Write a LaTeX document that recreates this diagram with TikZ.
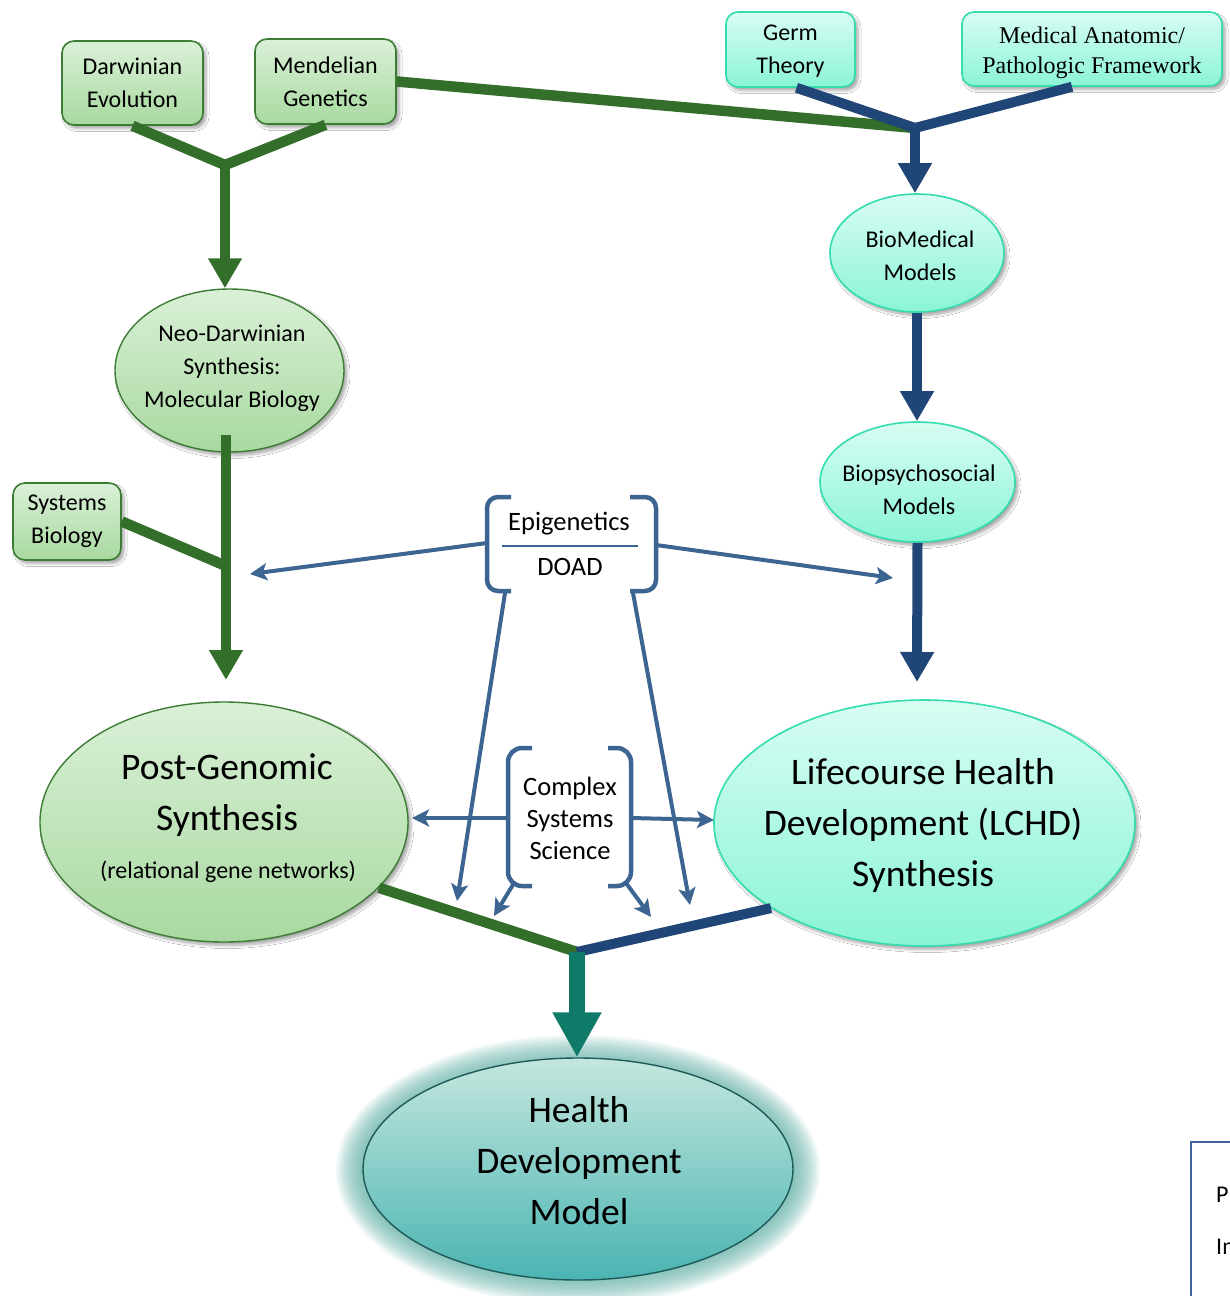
\documentclass[tikz,border=0pt]{standalone}
\usepackage{fontspec}
\setmainfont{Carlito}
\newfontfamily\timesf{Liberation Serif}
\usetikzlibrary{shapes.geometric,arrows.meta,shadows.blur,calc}
\definecolor{dgreen}{HTML}{346E2B}
\definecolor{navy}{HTML}{1F4677}
\definecolor{steel}{HTML}{3D6592}
\definecolor{tealarr}{HTML}{0F7A68}
\definecolor{gtop}{HTML}{DAF0D7}
\definecolor{gbot}{HTML}{A8D9A0}
\definecolor{gborder}{HTML}{3D7C35}
\definecolor{atop}{HTML}{D8FDF3}
\definecolor{abot}{HTML}{8AF4D6}
\definecolor{aborder}{HTML}{33DDAE}
\definecolor{htop}{HTML}{C4E7DE}
\definecolor{hbot}{HTML}{4AB4B2}
\definecolor{hborder}{HTML}{1F5A58}
\definecolor{glowc}{HTML}{4FA89E}
\definecolor{pbox}{HTML}{3F659C}
\newcommand{\fsm}{\fontsize{24}{33}\selectfont}
\newcommand{\fbig}{\fontsize{37.5}{51}\selectfont}
\tikzset{
  shad/.style={blur shadow={shadow xshift=3pt,shadow yshift=-3.5pt,shadow blur steps=6,shadow opacity=35,shadow blur radius=3pt}},
  gbox/.style={rounded corners=12pt,draw=gborder,line width=1.6pt,top color=gtop,bottom color=gbot,shad,align=center,font=\fsm,inner sep=0pt},
  abox/.style={rounded corners=12pt,draw=aborder,line width=1.6pt,top color=atop,bottom color=abot,shad,align=center,font=\fsm,inner sep=0pt},
  gell/.style={ellipse,draw=gborder,line width=1.4pt,top color=gtop,bottom color=gbot,shad,inner sep=0pt},
  aell/.style={ellipse,draw=aborder,line width=1.6pt,top color=atop,bottom color=abot,shad,inner sep=0pt},
  gline/.style={draw=dgreen,line width=10.5pt},
  nline/.style={draw=navy,line width=10pt},
  garr/.style={gline,-{Triangle[length=30pt,width=32pt]}},
  narr/.style={nline,-{Triangle[length=30pt,width=32pt]}},
  sline/.style={draw=steel,line width=4pt},
  sarr/.style={sline,-{Stealth[length=17pt,width=17pt,inset=4pt]}},
  brk/.style={draw=steel,line width=4.5pt,rounded corners=11pt},
  lbl/.style={align=center,inner sep=0pt},
}
\begin{document}
\begin{tikzpicture}[x=1pt,y=1pt]
\useasboundingbox (0,0) rectangle (1230,-1296);
\fill[white] (0,0) rectangle (1230,-1296);

% glow around health development model
\foreach \k in {0,...,13}{
  \fill[glowc,opacity=0.075] (578,-1170) ellipse [x radius={242-2*\k}, y radius={135-2*\k}];
}

% coordinates
\coordinate (jg) at (225,-165);
\coordinate (jt) at (915,-128);
\coordinate (trunk) at (226,-435);
\coordinate (sysj) at (226,-566);
\coordinate (pgtip) at (226,-680);
\coordinate (lchdtip) at (917,-682);
\coordinate (jb) at (577,-952);
\coordinate (epiL) at (250,-574);
\coordinate (epiR) at (893,-578);
\coordinate (epiDL) at (457,-901);
\coordinate (epiDR) at (690,-905);
\coordinate (cssL) at (412,-818);
\coordinate (cssR) at (714,-820);
\coordinate (cssDL) at (494,-916);
\coordinate (cssDR) at (651,-917);

% boxes
\node[gbox,minimum width=141pt,minimum height=84pt] (darwin) at (132.5,-83) {Darwinian\\Evolution};
\node[gbox,minimum width=141pt,minimum height=85pt] (mendel) at (325.5,-81.5) {Mendelian\\Genetics};
\node[abox,minimum width=129pt,minimum height=75pt] (germ) at (790.5,-49.5) {};
\node[lbl,font=\fsm] (germt) at (790.5,-51) {Germ\\Theory};
\node[abox,minimum width=260pt,minimum height=74pt] (med) at (1092,-49) {};
\node[lbl,font=\timesf\fontsize{24}{30}\selectfont] (medt) at (1092,-53) {Medical Anatomic/\\Pathologic Framework};
\node[gbox,minimum width=108pt,minimum height=77pt] (sysbio) at (67,-521.5) {Systems\\Biology};

% upper ellipses
\node[aell,minimum width=174pt,minimum height=118pt] (biomed) at (917,-253) {};
\node[lbl,font=\fsm] (biomedt) at (920,-256) {BioMedical\\Models};
\node[aell,minimum width=195pt,minimum height=120pt] (biopsy) at (917.5,-482) {};
\node[lbl,font=\fsm] (biopsyt) at (919,-490) {Biopsychosocial\\Models};
\node[gell,minimum width=229pt,minimum height=163pt] (neo) at (229.5,-370.5) {};
\node[lbl,font=\fsm] (neot) at (232,-368) {Neo-Darwinian\\Synthesis:\\Molecular Biology};

% connectors top
\draw[gline] (darwin.south) -- (jg) -- (mendel.south);
\draw[garr] (jg) -- (jg |- neo.north);
\draw[gline] (mendel.east) -- (jt);
\draw[nline] ($(germ.south)+(6,0)$) -- (jt) -- ($(med.south)+(-20,0)$);
\draw[narr] (jt) -- (jt |- biomed.north);
\draw[narr] (biomed.south) -- (biomed.south |- biopsy.north);
\draw[narr] (biopsy.south) -- (lchdtip);
\draw[garr] (trunk) -- (pgtip);
\draw[gline] (sysbio.east) -- (sysj);

% bottom ellipses
\node[gell,minimum width=368pt,minimum height=240pt] (post) at (224,-822) {};
\node[lbl,font=\fbig] (postt) at (227,-795) {Post-Genomic\\Synthesis};
\node[lbl,font=\fontsize{24}{26}\selectfont] (postr) at (228,-872) {(relational gene networks)};
\node[aell,minimum width=421pt,minimum height=246pt] (lchd) at (924.5,-823) {};
\node[lbl,font=\fbig] (lchdt) at (923,-825) {Lifecourse Health\\Development (LCHD)\\Synthesis};
\node[ellipse,draw=hborder,line width=1.4pt,top color=htop,bottom color=hbot,minimum width=430pt,minimum height=222pt] (hdm) at (578,-1169) {};
\node[lbl,font=\fbig] (hdmt) at (579,-1161) {Health\\Development\\Model};

\draw[gline] (post.-23) -- (jb);
\draw[nline] (lchd.209) -- (jb);
\draw[draw=tealarr,line width=16pt,-{Triangle[length=45pt,width=46pt]}] (jb) -- (jb |- hdm.north);

% Epigenetics / DOAD
\node[lbl,font=\fontsize{26.5}{30}\selectfont] (epit) at (569,-524) {Epigenetics};
\node[lbl,font=\fontsize{26.5}{30}\selectfont] (doad) at (570,-567) {DOAD};
\draw[steel,line width=2.5pt] (502,-546) -- (638,-546);
\draw[brk] (511,-497) -- (487,-497) -- (487,-591) -- (511,-591);
\draw[brk] (630,-497) -- (656,-497) -- (656,-591) -- (630,-591);
\draw[sarr] (487,-543) -- (epiL);
\draw[sarr] (656,-545) -- (epiR);
\draw[sarr] (505,-593) -- (epiDL);
\draw[sarr] (633,-593) -- (epiDR);

% Complex Systems Science
\node[lbl,font=\fontsize{26.5}{32}\selectfont] (css) at (570,-818) {Complex\\Systems\\Science};
\draw[brk,rounded corners=14pt] (532,-748) -- (508,-748) -- (508,-886) -- (532,-886);
\draw[brk,rounded corners=14pt] (608,-748) -- (631,-748) -- (631,-886) -- (608,-886);
\draw[sarr] (508,-818) -- (cssL);
\draw[sarr] (631,-818) -- (cssR);
\draw[sarr] (514,-883) -- (cssDL);
\draw[sarr] (626,-883) -- (cssDR);

% partial box at bottom right (cut by the picture edge, as in the source)
\begin{scope}
\clip (0,0) rectangle (1230,-1296);
\draw[pbox,line width=1.5pt] (1191,-1300) -- (1191,-1142) -- (1240,-1142);
\node[anchor=west,font=\fsm,inner sep=0pt] (pp) at (1216,-1195) {P};
\node[anchor=west,font=\fsm,inner sep=0pt] (pin) at (1216,-1247) {In};
\end{scope}
\end{tikzpicture}
\end{document}
